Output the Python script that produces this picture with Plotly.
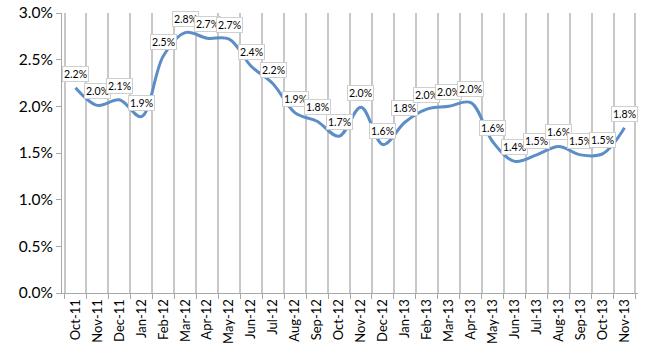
import plotly.graph_objects as go

months = ["Oct-11", "Nov-11", "Dec-11", "Jan-12", "Feb-12", "Mar-12", "Apr-12", "May-12",
          "Jun-12", "Jul-12", "Aug-12", "Sep-12", "Oct-12", "Nov-12", "Dec-12", "Jan-13",
          "Feb-13", "Mar-13", "Apr-13", "May-13", "Jun-13", "Jul-13", "Aug-13", "Sep-13",
          "Oct-13", "Nov-13"]
rates = [2.20, 2.01, 2.07, 1.89, 2.54, 2.79, 2.73, 2.72,
         2.43, 2.24, 1.93, 1.84, 1.68, 1.99, 1.59, 1.83,
         1.97, 2.00, 2.04, 1.62, 1.41, 1.48, 1.57, 1.48,
         1.49, 1.77]
y_ticks = [0.0, 0.5, 1.0, 1.5, 2.0, 2.5, 3.0]

fig = go.Figure()
fig.add_trace(go.Scatter(
    x=months, y=rates, mode="lines",
    line=dict(color="#5B8DC6", width=3, shape="spline", smoothing=1.0),
    hoverinfo="skip", showlegend=False, cliponaxis=False,
))

for m, v in zip(months, rates):
    fig.add_annotation(
        x=m, y=v, text=f"{v:.1f}%", showarrow=False,
        yshift=14, yanchor="middle",
        font=dict(family="Lato, sans-serif", size=10.5, color="#000000"),
        bgcolor="#ffffff", bordercolor="#cfcfcf", borderwidth=1, borderpad=1,
    )

fig.update_layout(
    width=650, height=350,
    margin=dict(l=62, r=12, t=13, b=57),
    paper_bgcolor="#ffffff", plot_bgcolor="#ffffff",
    font=dict(family="Lato, sans-serif", color="#000000"),
)
fig.update_xaxes(
    type="category", tickson="boundaries", automargin=False,
    showgrid=True, gridcolor="#c8c8c8", gridwidth=2,
    showline=True, linecolor="#a8a8a8", linewidth=1,
    ticks="outside", ticklen=5, tickcolor="#a8a8a8",
    tickangle=-90, tickfont=dict(size=13, family="Lato, sans-serif"),
)
fig.update_yaxes(
    range=[0, 3.0], tickvals=y_ticks, automargin=False,
    ticktext=[f"{t:.1f}%" for t in y_ticks],
    showgrid=False, zeroline=False,
    showline=True, linecolor="#a8a8a8", linewidth=1,
    ticks="outside", ticklen=5, tickcolor="#a8a8a8",
    tickfont=dict(size=15.5, family="Lato, sans-serif"),
)

fig.write_html("out.html")
